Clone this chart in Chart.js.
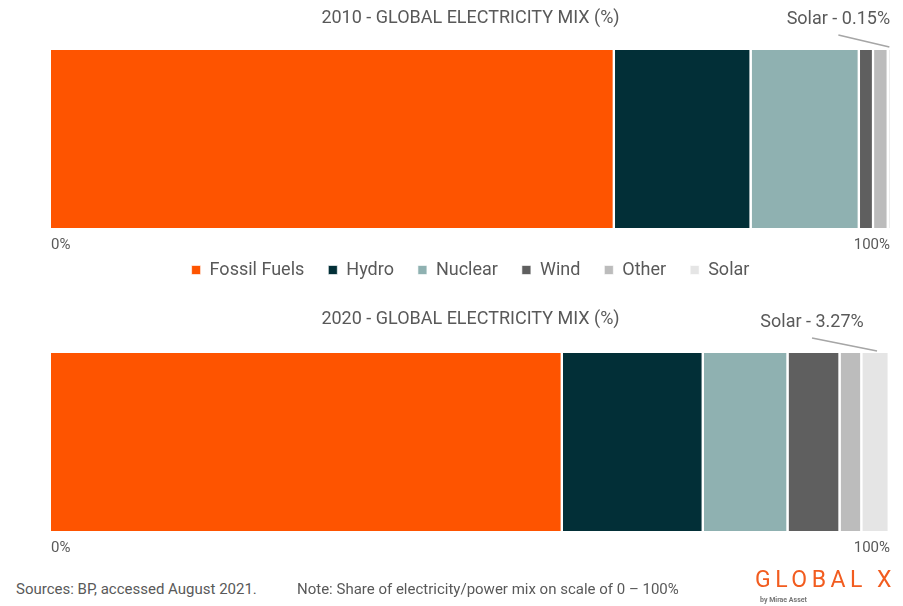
<!DOCTYPE html>
<html>
<head>
<meta charset="utf-8">
<script src="https://cdn.jsdelivr.net/npm/chart.js@4"></script>
<style>
  html, body { margin: 0; padding: 0; background: #ffffff; }
  body { width: 903px; height: 606px; position: relative; overflow: hidden;
         font-family: 'Liberation Sans Narrow', 'Roboto', sans-serif; color: #595959; }
  canvas { position: absolute; left: 0; }
  #c1 { top: 0; }
  #c2 { top: 230px; }
  .foot { position: absolute; top: 580px; font-size: 15px; color: #595959; white-space: nowrap; }
  #logo { position: absolute; left: 755px; top: 566px; font-size: 23px; color: #f25c1f;
          letter-spacing: 4.5px; font-family: 'Roboto', sans-serif; font-weight: 400; white-space: nowrap; }
  #by { position: absolute; left: 760px; top: 596px; font-size: 7px; color: #777; font-weight: bold;
        font-family: 'Roboto', sans-serif; white-space: nowrap; }
</style>
</head>
<body>
<canvas id="c1" width="903" height="262"></canvas>
<canvas id="c2" width="903" height="340"></canvas>
<div class="foot" style="left:16px">Sources: BP, accessed August 2021.</div>
<div class="foot" style="left:297px">Note: Share of electricity/power mix on scale of 0 – 100%</div>
<div id="logo">GLOBAL X</div>
<div id="by">by Mirae Asset</div>
<script>
// ---- data ----
const seriesLabels = ['Fossil Fuels', 'Hydro', 'Nuclear', 'Wind', 'Other', 'Solar'];
const categories2010 = ['2010'];
const categories2020 = ['2020'];
const values2010 = [67.2, 16.3, 12.9, 1.7, 1.75, 0.15];
const values2020 = [61.0, 16.8, 10.1, 6.2, 2.6, 3.27];
const tickValues = [0, 100];
const title2010 = '2010 - GLOBAL ELECTRICITY MIX (%)';
const title2020 = '2020 - GLOBAL ELECTRICITY MIX (%)';

// ---- styles ----
const colors = ['#fe5400', '#022f37', '#8fb1b1', '#5f5f5f', '#bcbcbc', '#e5e5e5'];
const FONT = "'Liberation Sans Narrow', 'Roboto', sans-serif";
const GREY = '#595959';

const solarNote = {
  id: 'solarNote',
  afterDatasetsDraw(chart, args, opts) {
    const idx = seriesLabels.indexOf('Solar');
    const meta = chart.getDatasetMeta(idx);
    const bar = meta.data[0];
    if (!bar) return;
    const p = bar.getProps(['x', 'y', 'base', 'height'], true);
    const cx = (p.x + p.base) / 2 + opts.endDx;
    const top = p.y - p.height / 2;
    const ex = cx, ey = top + opts.endDy;
    const sx = ex + opts.dx, sy = ey + opts.dy;
    const ctx = chart.ctx;
    ctx.save();
    ctx.strokeStyle = '#a6a6a6';
    ctx.lineWidth = 1.5;
    ctx.beginPath();
    ctx.moveTo(sx, sy);
    ctx.lineTo(ex, ey);
    ctx.stroke();
    ctx.fillStyle = GREY;
    ctx.font = '18px ' + FONT;
    ctx.textAlign = 'center';
    ctx.textBaseline = 'middle';
    const v = chart.data.datasets[idx].data[0];
    ctx.fillText('Solar - ' + v + '%', sx + opts.labelDx, sy - 16);
    ctx.restore();
  }
};

function makeChart(id, cats, values, title, cfg) {
  const datasets = seriesLabels.map((name, i) => ({
    label: name,
    data: [values[i]],
    backgroundColor: colors[i],
    borderColor: '#ffffff',
    borderWidth: { top: 0, bottom: 0, left: 0, right: 2.5 },
    borderSkipped: false,
    barPercentage: 1,
    categoryPercentage: 1
  }));
  return new Chart(document.getElementById(id), {
    type: 'bar',
    data: { labels: cats, datasets },
    plugins: [solarNote],
    options: {
      indexAxis: 'y',
      responsive: false,
      animation: false,
      events: [],
      layout: { padding: { left: 51, right: 13, top: cfg.padTop, bottom: cfg.padBottom } },
      scales: {
        x: {
          stacked: true,
          min: 0, max: 100,
          afterBuildTicks(scale) { scale.ticks = tickValues.map(v => ({ value: v })); },
          grid: { display: false, drawTicks: false },
          border: { display: false },
          ticks: {
            align: 'inner',
            padding: 8,
            maxRotation: 0,
            autoSkip: false,
            color: GREY,
            font: { family: FONT, size: 15 },
            callback: v => v + '%'
          }
        },
        y: { stacked: true, display: false }
      },
      plugins: {
        tooltip: { enabled: false },
        title: {
          display: true,
          text: title,
          color: GREY,
          font: { family: FONT, size: 18, weight: 'normal' },
          padding: cfg.titlePad
        },
        legend: {
          display: cfg.legend,
          position: 'top',
          weight: 3000,
          labels: {
            color: GREY,
            font: { family: FONT, size: 18 },
            boxWidth: 9,
            boxHeight: 9,
            padding: 24
          }
        },
        solarNote: cfg.note
      }
    }
  });
}

makeChart('c1', categories2010, values2010, title2010, {
  padTop: 0, padBottom: 0, legend: false,
  titlePad: { top: 8, bottom: 20.4 },
  note: { dx: -51, dy: -12, endDx: 0, endDy: -3, labelDx: 0 }
});
makeChart('c2', categories2020, values2020, title2020, {
  padTop: 7, padBottom: 5, legend: true,
  titlePad: { top: 19.2, bottom: 23.2 },
  note: { dx: -65, dy: -13, endDx: 1, endDy: -2, labelDx: 0 }
});
</script>
</body>
</html>
